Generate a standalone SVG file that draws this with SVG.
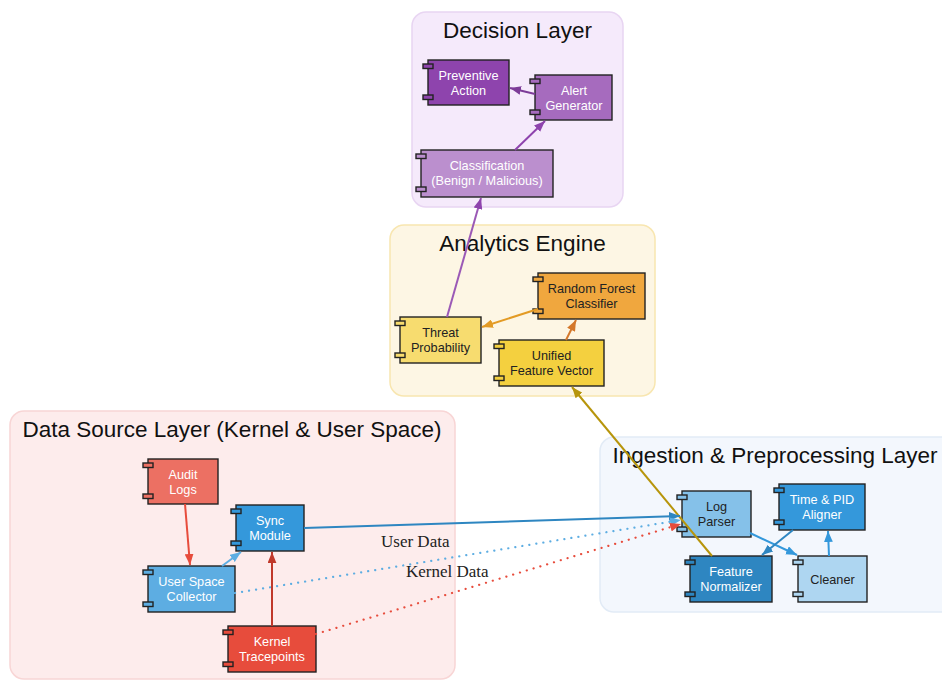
<svg xmlns="http://www.w3.org/2000/svg" width="942" height="680" viewBox="0 0 942 680">
  <style>
    .cluster { stroke-width: 1.5; }
    .ctitle { font-family: "Liberation Sans", Arial, sans-serif; font-size: 22.5px; fill: #111; text-anchor: middle; }
    .node rect { stroke: #222; stroke-width: 1.4; }
    .lbl { font-family: "Liberation Sans", Arial, sans-serif; font-size: 12.7px; text-anchor: middle; }
    .w { fill: #ffffff; }
    .d { fill: #222222; }
    .edge { fill: none; stroke-width: 2; }
    .dot { stroke-dasharray: 0.1 7; stroke-linecap: round; stroke-width: 2.2; }
    .elbl { font-family: "Liberation Serif", "Times New Roman", serif; font-size: 17px; fill: #222; }
  </style>
  <defs>
    <marker id="a-purple" viewBox="0 0 10 8" refX="10" refY="4" markerWidth="11" markerHeight="9" markerUnits="userSpaceOnUse" orient="auto"><path d="M0,0 L10,4 L0,8 z" fill="#8e44ad"/></marker>
    <marker id="a-purple2" viewBox="0 0 10 8" refX="10" refY="4" markerWidth="11" markerHeight="9" markerUnits="userSpaceOnUse" orient="auto"><path d="M0,0 L10,4 L0,8 z" fill="#7d3c98"/></marker>
    <marker id="a-orange" viewBox="0 0 10 8" refX="10" refY="4" markerWidth="11" markerHeight="9" markerUnits="userSpaceOnUse" orient="auto"><path d="M0,0 L10,4 L0,8 z" fill="#e39b25"/></marker>
    <marker id="a-orange2" viewBox="0 0 10 8" refX="10" refY="4" markerWidth="11" markerHeight="9" markerUnits="userSpaceOnUse" orient="auto"><path d="M0,0 L10,4 L0,8 z" fill="#d4782b"/></marker>
    <marker id="a-olive" viewBox="0 0 10 8" refX="10" refY="4" markerWidth="11" markerHeight="9" markerUnits="userSpaceOnUse" orient="auto"><path d="M0,0 L10,4 L0,8 z" fill="#b7950b"/></marker>
    <marker id="a-blue" viewBox="0 0 10 8" refX="10" refY="4" markerWidth="11" markerHeight="9" markerUnits="userSpaceOnUse" orient="auto"><path d="M0,0 L10,4 L0,8 z" fill="#2e86c1"/></marker>
    <marker id="a-blue2" viewBox="0 0 10 8" refX="10" refY="4" markerWidth="11" markerHeight="9" markerUnits="userSpaceOnUse" orient="auto"><path d="M0,0 L10,4 L0,8 z" fill="#3498db"/></marker>
    <marker id="a-lblue" viewBox="0 0 10 8" refX="10" refY="4" markerWidth="11" markerHeight="9" markerUnits="userSpaceOnUse" orient="auto"><path d="M0,0 L10,4 L0,8 z" fill="#5dade2"/></marker>
    <marker id="a-red" viewBox="0 0 10 8" refX="10" refY="4" markerWidth="11" markerHeight="9" markerUnits="userSpaceOnUse" orient="auto"><path d="M0,0 L10,4 L0,8 z" fill="#e74c3c"/></marker>
    <marker id="a-red2" viewBox="0 0 10 8" refX="10" refY="4" markerWidth="11" markerHeight="9" markerUnits="userSpaceOnUse" orient="auto"><path d="M0,0 L10,4 L0,8 z" fill="#c0392b"/></marker>
  </defs>

  <rect width="942" height="680" fill="#ffffff"/>

  <!-- layer containers -->
  <g id="cluster-decision">
    <rect class="cluster" x="412" y="12" width="211" height="195" rx="14" fill="#f5eafb" stroke="#e8d5f2"/>
    <text class="ctitle" x="517.5" y="38">Decision Layer</text>
  </g>
  <g id="cluster-analytics">
    <rect class="cluster" x="390" y="225" width="265" height="171" rx="14" fill="#fdf6e4" stroke="#f8e6b0"/>
    <text class="ctitle" x="522.5" y="251">Analytics Engine</text>
  </g>
  <g id="cluster-datasource">
    <rect class="cluster" x="10" y="411" width="445" height="268" rx="14" fill="#fdecec" stroke="#f8d5d5"/>
    <text class="ctitle" x="232" y="437">Data Source Layer (Kernel &amp; User Space)</text>
  </g>
  <g id="cluster-ingestion">
    <rect class="cluster" x="600" y="437" width="360" height="175" rx="14" fill="#f3f7fd" stroke="#e2ebf6"/>
    <text class="ctitle" x="775" y="463">Ingestion &amp; Preprocessing Layer</text>
  </g>

  <!-- components -->
  <g id="preventive-action" class="node">
    <rect x="428" y="60" width="81" height="45" fill="#8e44ad"/>
    <rect x="423" y="64" width="10" height="4.5" fill="#8e44ad"/>
    <rect x="423" y="95" width="10" height="4.5" fill="#8e44ad"/>
    <text class="lbl w" x="468.5" y="79.5">Preventive</text>
    <text class="lbl w" x="468.5" y="94.5">Action</text>
  </g>
  <g id="alert-generator" class="node">
    <rect x="535" y="75" width="77" height="45" fill="#a66bbe"/>
    <rect x="530" y="79" width="10" height="4.5" fill="#a66bbe"/>
    <rect x="530" y="110" width="10" height="4.5" fill="#a66bbe"/>
    <text class="lbl w" x="574" y="94.5">Alert</text>
    <text class="lbl w" x="574" y="109.5">Generator</text>
  </g>
  <g id="classification" class="node">
    <rect x="421" y="150" width="132" height="47" fill="#bb8fce"/>
    <rect x="416" y="154" width="10" height="4.5" fill="#bb8fce"/>
    <rect x="416" y="187" width="10" height="4.5" fill="#bb8fce"/>
    <text class="lbl w" x="487" y="170">Classification</text>
    <text class="lbl w" x="487" y="185">(Benign / Malicious)</text>
  </g>

  <g id="random-forest" class="node">
    <rect x="538" y="273" width="107" height="46" fill="#f0a73e"/>
    <rect x="533" y="277" width="10" height="4.5" fill="#f0a73e"/>
    <rect x="533" y="309" width="10" height="4.5" fill="#f0a73e"/>
    <text class="lbl d" x="591.5" y="293">Random Forest</text>
    <text class="lbl d" x="591.5" y="308">Classifier</text>
  </g>
  <g id="threat-probability" class="node">
    <rect x="400" y="317" width="81" height="46" fill="#f7dc6f"/>
    <rect x="395" y="321" width="10" height="4.5" fill="#f7dc6f"/>
    <rect x="395" y="353" width="10" height="4.5" fill="#f7dc6f"/>
    <text class="lbl d" x="440.5" y="337">Threat</text>
    <text class="lbl d" x="440.5" y="352">Probability</text>
  </g>
  <g id="unified-feature-vector" class="node">
    <rect x="499" y="340" width="105" height="46" fill="#f4d03f"/>
    <rect x="494" y="344" width="10" height="4.5" fill="#f4d03f"/>
    <rect x="494" y="376" width="10" height="4.5" fill="#f4d03f"/>
    <text class="lbl d" x="551.5" y="360">Unified</text>
    <text class="lbl d" x="551.5" y="375">Feature Vector</text>
  </g>

  <g id="audit-logs" class="node">
    <rect x="148" y="459" width="70" height="45" fill="#ec7063"/>
    <rect x="143" y="463" width="10" height="4.5" fill="#ec7063"/>
    <rect x="143" y="494" width="10" height="4.5" fill="#ec7063"/>
    <text class="lbl w" x="183" y="478.5">Audit</text>
    <text class="lbl w" x="183" y="493.5">Logs</text>
  </g>
  <g id="sync-module" class="node">
    <rect x="236" y="505" width="68" height="46" fill="#3498db"/>
    <rect x="231" y="509" width="10" height="4.5" fill="#3498db"/>
    <rect x="231" y="541" width="10" height="4.5" fill="#3498db"/>
    <text class="lbl w" x="270" y="525">Sync</text>
    <text class="lbl w" x="270" y="540">Module</text>
  </g>
  <g id="user-space-collector" class="node">
    <rect x="148" y="566" width="87" height="46" fill="#5dade2"/>
    <rect x="143" y="570" width="10" height="4.5" fill="#5dade2"/>
    <rect x="143" y="602" width="10" height="4.5" fill="#5dade2"/>
    <text class="lbl w" x="191.5" y="586">User Space</text>
    <text class="lbl w" x="191.5" y="601">Collector</text>
  </g>
  <g id="kernel-tracepoints" class="node">
    <rect x="228" y="626" width="88" height="46" fill="#e74c3c"/>
    <rect x="223" y="630" width="10" height="4.5" fill="#e74c3c"/>
    <rect x="223" y="662" width="10" height="4.5" fill="#e74c3c"/>
    <text class="lbl w" x="272" y="646">Kernel</text>
    <text class="lbl w" x="272" y="661">Tracepoints</text>
  </g>

  <g id="log-parser" class="node">
    <rect x="682" y="491" width="69" height="46" fill="#85c1e9"/>
    <rect x="677" y="495" width="10" height="4.5" fill="#85c1e9"/>
    <rect x="677" y="527" width="10" height="4.5" fill="#85c1e9"/>
    <text class="lbl d" x="716.5" y="511">Log</text>
    <text class="lbl d" x="716.5" y="526">Parser</text>
  </g>
  <g id="time-pid-aligner" class="node">
    <rect x="779" y="484" width="86" height="46" fill="#3498db"/>
    <rect x="774" y="488" width="10" height="4.5" fill="#3498db"/>
    <rect x="774" y="520" width="10" height="4.5" fill="#3498db"/>
    <text class="lbl w" x="822" y="504">Time &amp; PID</text>
    <text class="lbl w" x="822" y="519">Aligner</text>
  </g>
  <g id="feature-normalizer" class="node">
    <rect x="690" y="556" width="82" height="46" fill="#2e86c1"/>
    <rect x="685" y="560" width="10" height="4.5" fill="#2e86c1"/>
    <rect x="685" y="592" width="10" height="4.5" fill="#2e86c1"/>
    <text class="lbl w" x="731" y="576">Feature</text>
    <text class="lbl w" x="731" y="591">Normalizer</text>
  </g>
  <g id="cleaner" class="node">
    <rect x="798" y="556" width="69" height="46" fill="#aed6f1"/>
    <rect x="793" y="560" width="10" height="4.5" fill="#aed6f1"/>
    <rect x="793" y="592" width="10" height="4.5" fill="#aed6f1"/>
    <text class="lbl d" x="832.5" y="583.5">Cleaner</text>
  </g>

  <!-- connectors -->
  <g id="connectors">
    <line class="edge" x1="535" y1="94" x2="510" y2="88" stroke="#7d3c98" marker-end="url(#a-purple2)"/>
    <line class="edge" x1="515" y1="150" x2="545" y2="121" stroke="#8e44ad" marker-end="url(#a-purple)"/>
    <line class="edge" x1="447" y1="317" x2="481" y2="198" stroke="#9b59b6" stroke-width="1.8" marker-end="url(#a-purple)"/>
    <line class="edge" x1="538" y1="309" x2="482" y2="327" stroke="#e39b25" marker-end="url(#a-orange)"/>
    <line class="edge" x1="566" y1="340" x2="576" y2="320" stroke="#d4782b" marker-end="url(#a-orange2)"/>
    <line class="edge" x1="712" y1="556" x2="572" y2="387" stroke="#b7950b" marker-end="url(#a-olive)"/>

    <line class="edge" x1="304" y1="528" x2="680" y2="516" stroke="#2e86c1" marker-end="url(#a-blue)"/>
    <line class="edge dot" x1="235" y1="593" x2="681" y2="520" stroke="#5dade2" marker-end="url(#a-lblue)"/>
    <line class="edge dot" x1="316" y1="634" x2="681" y2="524" stroke="#e74c3c" marker-end="url(#a-red)"/>
    <text class="elbl" x="381" y="547">User Data</text>
    <text class="elbl" x="406" y="577">Kernel Data</text>

    <line class="edge" x1="185" y1="504" x2="190" y2="565" stroke="#e74c3c" marker-end="url(#a-red)"/>
    <line class="edge" x1="222" y1="566" x2="241" y2="552" stroke="#5dade2" marker-end="url(#a-lblue)"/>
    <line class="edge" x1="272" y1="626" x2="272" y2="552" stroke="#c0392b" marker-end="url(#a-red2)"/>

    <line class="edge" x1="750" y1="533" x2="797" y2="555" stroke="#3498db" marker-end="url(#a-blue2)"/>
    <line class="edge" x1="793" y1="530" x2="762" y2="555" stroke="#2e86c1" marker-end="url(#a-blue)"/>
    <line class="edge" x1="829" y1="556" x2="828" y2="531" stroke="#3498db" marker-end="url(#a-blue2)"/>
  </g>
</svg>
